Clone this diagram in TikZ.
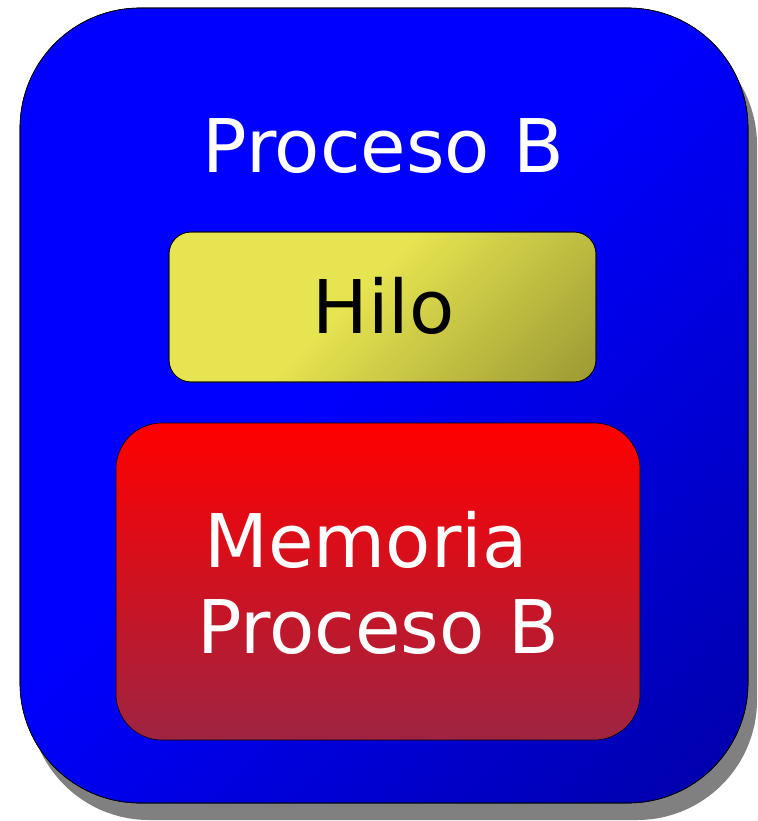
\documentclass[tikz,border=0pt]{standalone}
\usepackage{fontspec}
\setmainfont{DejaVu Sans}
\usetikzlibrary{shadings}
\definecolor{pblue}{RGB}{0,0,255}
\definecolor{pdblue}{RGB}{0,0,135}
\definecolor{pyel}{RGB}{230,228,80}
\definecolor{pdyel}{RGB}{128,126,40}
\definecolor{pred}{RGB}{255,0,0}
\definecolor{pdred}{RGB}{158,36,66}
\definecolor{pshadow}{RGB}{128,128,128}
\pgfdeclarehorizontalshading{bluegrad}{100bp}{color(0bp)=(pblue); color(46bp)=(pblue); color(100bp)=(pdblue)}
\pgfdeclarehorizontalshading{yelgrad}{100bp}{color(0bp)=(pyel); color(45bp)=(pyel); color(100bp)=(pdyel)}
\tikzset{
  box/.style={draw=black, line width=0.6pt},
  bigtxt/.style={font=\fontsize{74}{86}\selectfont, inner sep=0pt, anchor=base}
}
\begin{document}
\begin{tikzpicture}[x=1pt,y=-1pt]
\useasboundingbox (0,0) rectangle (757,821);
% shadow
\fill[pshadow, rounded corners=120pt] (29,25) rectangle (757,820);
% outer process box
\path[box, rounded corners=120pt, shading=bluegrad, shading angle=-45] (20,8) rectangle (748,803);
\draw[box, rounded corners=120pt] (20,8) rectangle (748,803);
% thread box
\path[box, rounded corners=22pt, shading=yelgrad, shading angle=-45] (169,232) rectangle (596,382);
\draw[box, rounded corners=22pt] (169,232) rectangle (596,382);
% memory box
\draw[box, rounded corners=46pt, top color=pred, bottom color=pdred] (116,423) rectangle (640,740);
% texts
\node[bigtxt, text=white] (proc) at (383.5,173) {Proceso B};
\node[bigtxt, text=black] (hilo) at (383.5,333) {Hilo};
\node[bigtxt, text=white] (mem1) at (366,567) {Memoria};
\node[bigtxt, text=white] (mem2) at (378,653) {Proceso B};
\end{tikzpicture}
\end{document}
